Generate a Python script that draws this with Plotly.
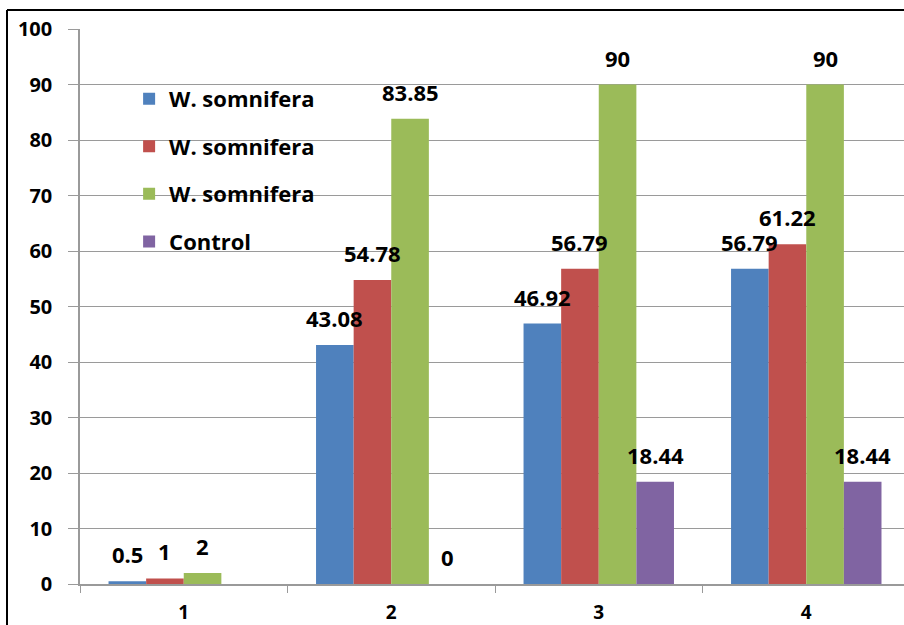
import plotly.graph_objects as go

categories = ["1", "2", "3", "4"]
series_names = ["W. somnifera", "W. somnifera", "W. somnifera", "Control"]
series_colors = ["#4F81BD", "#C0504D", "#9BBB59", "#8064A2"]
values_s1 = [0.5, 43.08, 46.92, 56.79]
values_s2 = [1, 54.78, 56.79, 61.22]
values_s3 = [2, 83.85, 90, 90]
values_ctrl = [None, 0, 18.44, 18.44]
y_ticks = [0, 10, 20, 30, 40, 50, 60, 70, 80, 90, 100]

all_values = [values_s1, values_s2, values_s3, values_ctrl]

FONT = "Open Sans"
BARGAP = 0.275

fig = go.Figure()
for i, (name, col, vals) in enumerate(zip(series_names, series_colors, all_values)):
    fig.add_trace(go.Bar(
        x=categories, y=vals, name=name, marker_color=col,
        marker_line_width=0, legendgroup=f"g{i}",
    ))

# data labels above bars
n = len(all_values)
w = (1 - BARGAP) / n
annotations = []
for j, vals in enumerate(all_values):
    for k, v in enumerate(vals):
        if v is None:
            continue
        txt = f"{v:g}"
        annotations.append(dict(
            x=k + (j - (n - 1) / 2) * w, y=v, xref="x", yref="y",
            text=txt, showarrow=False, yanchor="middle", yshift=27,
            font=dict(family=FONT, size=22, color="black", weight="bold"),
        ))

border_top = (584 - 10) / 555
border_left = (7 - 80) / 824

fig.update_layout(
    width=904, height=625,
    margin=dict(l=80, r=0, t=29, b=41, autoexpand=False),
    paper_bgcolor="white", plot_bgcolor="white",
    barmode="group", bargap=BARGAP, bargroupgap=0,
    annotations=annotations,
    legend=dict(
        x=0.0596, y=0.912, xanchor="left", yanchor="top",
        bgcolor="rgba(0,0,0,0)", tracegroupgap=16, itemwidth=30,
        font=dict(family=FONT, size=22, color="black", weight="bold"),
    ),
    xaxis=dict(
        type="category", range=[-0.5, 3.471], automargin=False,
        showline=True, linecolor="#9a9a9a", linewidth=1.5,
        ticks="outside", tickson="boundaries", ticklen=7, tickcolor="#9a9a9a",
        ticklabelstandoff=10,
        tickfont=dict(family=FONT, size=19, color="black", weight="bold"),
        showgrid=False, zeroline=False,
    ),
    yaxis=dict(
        range=[0, 100], tickvals=y_ticks, automargin=False,
        showline=True, linecolor="#9a9a9a", linewidth=1.5,
        ticks="outside", ticklen=10, tickcolor="#9a9a9a",
        ticklabelstandoff=12,
        showgrid=True, gridcolor="#9a9a9a", gridwidth=1.2,
        zeroline=False,
        tickfont=dict(family=FONT, size=20, color="black", weight="bold"),
    ),
    shapes=[
        dict(type="line", xref="paper", yref="paper",
             x0=border_left, x1=1.05, y0=border_top, y1=border_top,
             line=dict(color="black", width=2), layer="above"),
        dict(type="line", xref="paper", yref="paper",
             x0=border_left, x1=border_left, y0=-0.2, y1=border_top,
             line=dict(color="black", width=2), layer="above"),
    ],
)

fig.write_html(
    "out.html",
    config={"displayModeBar": False},
    post_script=(
        "document.documentElement.style.margin='0';"
        "document.documentElement.style.overflow='hidden';"
        "document.body.style.margin='0';"
        "document.body.style.overflow='hidden';"
    ),
)
